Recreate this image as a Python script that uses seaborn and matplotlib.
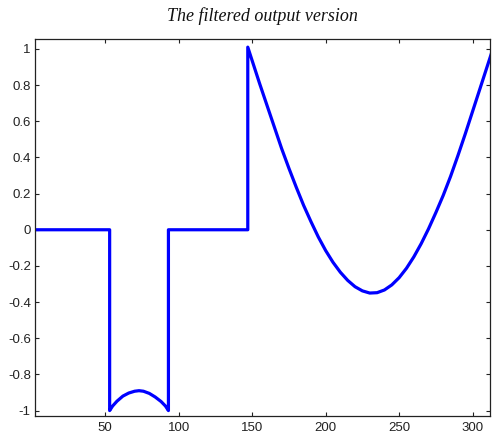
import matplotlib
matplotlib.use("Agg")
import matplotlib.pyplot as plt
import seaborn as sns
import pandas as pd

# Signal samples (x index, amplitude)
x_flat1 = [1, 53]
y_flat1 = [0.0, 0.0]
x_dip = [53, 53, 55, 58, 62, 66, 70, 73, 76, 80, 84, 88, 91, 93, 93]
y_dip = [0.0, -1.0, -0.975, -0.948, -0.92, -0.903, -0.893, -0.89, -0.893, -0.905, -0.925, -0.95, -0.975, -1.0, 0.0]
x_flat2 = [147]
y_flat2 = [0.0]
x_curve = [147, 150, 155, 160, 165, 170, 175, 180, 185, 190, 195, 200, 205, 210, 215,
           220, 225, 230, 235, 240, 245, 250, 255, 260, 265, 270, 275, 280, 285, 290,
           295, 300, 305, 310, 313]
y_curve = [1.01, 0.935, 0.81, 0.69, 0.57, 0.45, 0.34, 0.235, 0.135, 0.045, -0.04, -0.115, -0.18, -0.235, -0.28,
           -0.315, -0.338, -0.35, -0.348, -0.333, -0.305, -0.265, -0.213, -0.15, -0.077, 0.005, 0.095, 0.19, 0.295, 0.41,
           0.53, 0.655, 0.78, 0.905, 0.98]

xs = x_flat1 + x_dip + x_flat2 + x_curve
ys = y_flat1 + y_dip + y_flat2 + y_curve
df = pd.DataFrame({"n": xs, "amp": ys})

x_ticks = [50, 100, 150, 200, 250, 300]
y_ticks = [-1, -0.8, -0.6, -0.4, -0.2, 0, 0.2, 0.4, 0.6, 0.8, 1]
y_labels = ["-1", "-0.8", "-0.6", "-0.4", "-0.2", "0", "0.2", "0.4", "0.6", "0.8", "1"]
title = "The filtered output version"

sns.set_style("ticks")
plt.rcParams["font.family"] = ["Liberation Sans", "DejaVu Sans"]

fig = plt.figure(figsize=(4.92, 4.36), dpi=100)
ax = fig.add_axes([35 / 492, 1 - 416 / 436, (489.5 - 35) / 492, (416 - 39) / 436])

sns.lineplot(data=df, x="n", y="amp", sort=False, estimator=None, color="#0000ff",
             linewidth=2.3, ax=ax, legend=False)

ax.set_xlim(2.2, 311.5)
ax.set_ylim(-1.03, 1.055)
ax.set_xticks(x_ticks)
ax.set_xticklabels([str(t) for t in x_ticks])
ax.set_yticks(y_ticks)
ax.set_yticklabels(y_labels)
ax.set_xlabel("")
ax.set_ylabel("")
for s in ax.spines.values():
    s.set_visible(True)
    s.set_color("#222222")
    s.set_linewidth(0.9)
ax.tick_params(direction="in", length=3, width=0.8, top=True, right=True,
               labelsize=9.5, colors="#222222", pad=3)
ax.tick_params(axis="x", pad=4)
ax.set_title(title, family=["Liberation Serif", "DejaVu Serif"], style="italic",
             fontsize=13, pad=13, color="#111111")

fig.savefig("out.png", dpi=100, facecolor="white")
